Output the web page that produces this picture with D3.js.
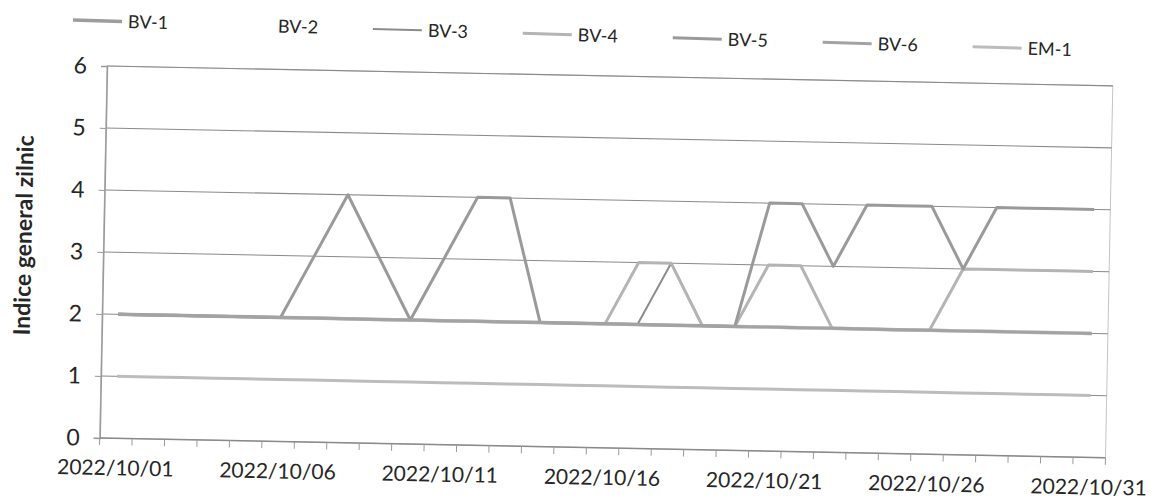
<!DOCTYPE html>
<html>
<head>
<meta charset="utf-8">
<script src="https://cdn.jsdelivr.net/npm/d3@7"></script>
<style>
  body { margin: 0; background: #fff; }
  svg text { font-family: Lato, "Open Sans", sans-serif; fill: #262626; }
</style>
</head>
<body>
<div class="graphics"></div>
<script>
// categorii (zile)
var days = ["2022/10/01","2022/10/02","2022/10/03","2022/10/04","2022/10/05","2022/10/06","2022/10/07",
  "2022/10/08","2022/10/09","2022/10/10","2022/10/11","2022/10/12","2022/10/13","2022/10/14",
  "2022/10/15","2022/10/16","2022/10/17","2022/10/18","2022/10/19","2022/10/20","2022/10/21",
  "2022/10/22","2022/10/23","2022/10/24","2022/10/25","2022/10/26","2022/10/27","2022/10/28",
  "2022/10/29","2022/10/30","2022/10/31"];
var tickLabels = ["2022/10/01","2022/10/06","2022/10/11","2022/10/16","2022/10/21","2022/10/26","2022/10/31"];
var yTicks = [0,1,2,3,4,5,6];

// valori
var bv1 = [2,2,2,2,2,2,2,2,2,2,2,2,2,2,2,2,2,2,2,2,2,2,2,2,2,2,2,2,2,2,2];
var bv2 = [2,2,2,2,2,2,2,2,2,2,2,2,2,2,2,2,2,2,2,2,2,2,2,2,2,2,2,2,2,2,2];
var bv3 = [2,2,2,2,2,2,2,2,2,2,2,2,2,2,2,2,2,3,2,2,2,2,2,2,2,2,2,2,2,2,2];
var bv4 = [2,2,2,2,2,2,2,2,2,2,2,2,2,2,2,2,3,3,2,2,3,3,2,2,2,2,3,3,3,3,3];
var bv5 = [2,2,2,2,2,2,3,4,3,2,3,4,4,2,2,2,2,2,2,2,4,4,3,4,4,4,3,4,4,4,4];
var bv6 = [2,2,2,2,2,2,2,2,2,2,2,2,2,2,2,2,2,2,2,2,2,2,2,2,2,2,2,2,2,2,2];
var em1 = [1,1,1,1,1,1,1,1,1,1,1,1,1,1,1,1,1,1,1,1,1,1,1,1,1,1,1,1,1,1,1];

var seriesNames = ["BV-1","BV-2","BV-3","BV-4","BV-5","BV-6","EM-1"];
var seriesValues = [bv1, bv2, bv3, bv4, bv5, bv6, em1];
var seriesColors = ["#9d9d9d","#ffffff","#8c8c8c","#b4b4b4","#9a9a9a","#a3a3a3","#bcbcbc"];
var seriesWidths = [3.5, 3, 2, 3, 3, 3, 3];

var series = seriesNames.map(function(n, i){
  return {name: n, values: seriesValues[i], color: seriesColors[i], width: seriesWidths[i]};
});

var w = 1153, h = 499;
var mLeft = 107, mTop = 66, W = 1006, H = 372;

var svg = d3.select(".graphics").append("svg")
  .attr("width", w).attr("height", h);

// pagina scanata e putin rotita
var g = svg.append("g")
  .attr("transform", "rotate(1.13," + mLeft + "," + mTop + ") translate(" + mLeft + "," + mTop + ")");

var x = d3.scaleBand().domain(days).range([0, W]).padding(0);
var y = d3.scaleLinear().domain([0, 6]).range([H, 0]);
var bw = x.bandwidth();

// chenar zona grafic
g.append("rect")
  .attr("x", 0).attr("y", 0).attr("width", W).attr("height", H)
  .attr("fill", "none").attr("stroke", "#c4c4c4").attr("stroke-width", 1);

// linii de grila
g.selectAll(".grid").data(yTicks.filter(function(d){ return d > 0; }))
  .enter().append("line")
  .attr("x1", 0).attr("x2", W)
  .attr("y1", function(d){ return y(d); }).attr("y2", function(d){ return y(d); })
  .attr("stroke", "#8a8a8a").attr("stroke-width", 1.1);

// axa Y
var yAxis = g.append("g").call(d3.axisLeft(y).tickValues(yTicks).tickFormat(d3.format("d")).tickSize(6).tickPadding(14));
yAxis.select(".domain").attr("stroke", "#9a9a9a").attr("stroke-width", 1.5);
yAxis.selectAll(".tick line").attr("stroke", "#9a9a9a");
yAxis.selectAll("text").style("font-size", "23px").attr("fill", "#262626");

// axa X: linia si gradatiile intre categorii
g.append("line").attr("x1", 0).attr("x2", W).attr("y1", H).attr("y2", H)
  .attr("stroke", "#8a8a8a").attr("stroke-width", 1.6);
var bounds = days.map(function(d){ return x(d); }).concat([W]);
g.selectAll(".xtick").data(bounds).enter().append("line")
  .attr("x1", function(d){ return d; }).attr("x2", function(d){ return d; })
  .attr("y1", H).attr("y2", H + 7)
  .attr("stroke", "#9a9a9a").attr("stroke-width", 1);
g.selectAll(".xlab").data(tickLabels).enter().append("text")
  .attr("x", function(d){ return x(d) + bw / 2; })
  .attr("y", H + 37)
  .attr("text-anchor", "middle")
  .style("font-size", "21px")
  .text(function(d){ return d; });

// titlu axa Y
g.append("text")
  .attr("transform", "translate(" + (27 - mLeft) + "," + (237 - mTop) + ") rotate(-90)")
  .attr("text-anchor", "middle")
  .attr("dy", "0.35em")
  .style("font-size", "23px").style("font-weight", "bold")
  .text("Indice general zilnic");

// seriile
var line = d3.line()
  .x(function(d, i){ return x(days[i]) + bw / 2; })
  .y(function(d){ return y(d); });

g.selectAll(".serie").data(series).enter().append("path")
  .attr("d", function(s){ return line(s.values); })
  .attr("fill", "none")
  .attr("stroke", function(s){ return s.color; })
  .attr("stroke-width", function(s){ return s.width; })
  .attr("stroke-linejoin", "round");

// legenda
var legend = svg.append("g").attr("transform", "rotate(1.7,73,20) translate(73,20)");
var item = legend.selectAll(".leg").data(series).enter().append("g")
  .attr("transform", function(d, i){ return "translate(" + (i * 150) + ",0)"; });
item.append("line")
  .attr("x1", 0).attr("x2", 49).attr("y1", 0).attr("y2", 0)
  .attr("stroke", function(s){ return s.color; })
  .attr("stroke-width", function(s){ return s.width; });
item.append("text")
  .attr("x", 55).attr("y", 0).attr("dy", "0.35em")
  .style("font-size", "18px")
  .text(function(s){ return s.name; });
</script>
</body>
</html>
